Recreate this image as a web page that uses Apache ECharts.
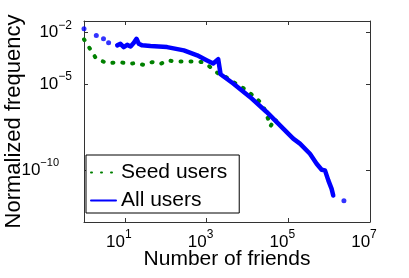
<!DOCTYPE html>
<html>
<head>
<meta charset="utf-8">
<script src="https://cdn.jsdelivr.net/npm/echarts@6/dist/echarts.min.js"></script>
<style>
html,body{margin:0;padding:0;background:#fff;}
#chart{width:409px;height:278px;}
</style>
</head>
<body>
<div id="chart"></div>
<script>
// Seed users (green dotted)
var seedX = [1, 2, 3.7, 7.5, 12.5, 18, 29, 46.5, 75, 108, 174, 277, 486, 780, 1205, 1925, 3090, 4490, 7200, 10460, 15250, 22200, 26900, 32300, 36600, 47100, 62400];
var seedY = [3.9e-3, 2.9e-4, 1.62e-4, 1.86e-4, 1.48e-4, 1.62e-4, 1.29e-4, 1.86e-4, 1.48e-4, 2.34e-4, 2.04e-4, 2.04e-4, 2.04e-4, 1.86e-4, 1.0e-4, 4.1e-5, 2.4e-5, 1.32e-5, 6.8e-6, 3.5e-6, 1.78e-6, 7.4e-7, 3.0e-7, 8.9e-8, 3.5e-8, 9.8e-8, 2.57e-8];
// All users (blue solid line)
var allX = [6.5, 7.8, 9.4, 11.4, 13.8, 16.6, 19.3, 22, 26.5, 42.5, 108, 278, 589, 1000, 1450, 1925, 2200, 4490, 11500, 29500, 75200, 132000, 193000, 339000, 494000, 656000, 791000, 955000, 1150000, 1260000];
var allY = [1.74e-3, 2.14e-3, 1.38e-3, 1.86e-3, 1.51e-3, 2.45e-3, 4.2e-3, 2.14e-3, 1.74e-3, 1.58e-3, 1.38e-3, 8.9e-4, 4.6e-4, 2.4e-4, 1.55e-4, 2.75e-4, 3.7e-5, 1.07e-5, 1.78e-6, 2.4e-7, 2.57e-8, 6.8e-9, 3.5e-9, 9.1e-10, 2.4e-10, 1.07e-10, 9.8e-11, 2.6e-11, 8.3e-12, 3.4e-12];
// All users isolated points
var allDotX = [1, 2, 3, 4, 2300000];
var allDotY = [1.58e-2, 6.6e-3, 4.2e-3, 2.45e-3, 1.7e-12];
// Ticks
var xTicks = [10, 1e3, 1e5, 1e7];
var yTicks = [1e-10, 1e-5, 1e-2];

function pairs(xs, ys){ return xs.map(function(x,i){ return [x, ys[i]]; }); }
function expOf(v){ return Math.round(Math.log10(v)); }
var FONT = "'Liberation Sans', Arial, Helvetica, sans-serif";
var AX = '#333';

var chart = echarts.init(document.getElementById('chart'), null, {renderer:'canvas'});
var baseRich = {
  b: {fontSize: 17, lineHeight: 26, fontFamily: FONT, color: '#000'},
  s: {fontSize: 12, lineHeight: 12, verticalAlign: 'top', fontFamily: FONT, color: '#000'},
  sx: {fontSize: 12, lineHeight: 12, verticalAlign: 'top', fontFamily: FONT, color: '#000', padding: [0, 12, 0, 0]},
  sp: {fontSize: 11, lineHeight: 12, verticalAlign: 'top', fontFamily: FONT, color: '#000', padding: [0, 13, 0, 0]}
};

chart.setOption({
  animation: false,
  backgroundColor: '#fff',
  grid: {left: 84, right: 39, top: 21, bottom: 56, containLabel: false, outerBoundsMode: 'none'},
  legend: {
    orient: 'vertical', left: 86, top: 155,
    data: ['Seed users', 'All users'],
    itemWidth: 25, itemHeight: 14, itemGap: 7, itemTextGap: 3,
    padding: [7, 12, 2, 4],
    borderColor: '#000', borderWidth: 1, backgroundColor: '#fff',
    itemStyle: {opacity: 0},
    textStyle: {fontSize: 21, lineHeight: 21, fontFamily: FONT, color: '#000'}
  },
  xAxis: [{
    type: 'log', min: 1, max: 1e7, position: 'bottom',
    name: 'Number of friends', nameLocation: 'middle', nameGap: 27, nameMoveOverlap: false,
    nameTextStyle: {fontSize: 21, fontFamily: FONT, color: '#000'},
    axisLine: {show: true, lineStyle: {color: AX, width: 1}},
    axisTick: {show: true, inside: true, length: 4, customValues: xTicks, lineStyle: {color: AX}},
    axisLabel: {show: true, margin: 7, customValues: xTicks, rich: baseRich,
      formatter: function(v){ return '{b|10}{sx|' + expOf(v) + '}'; }},
    splitLine: {show: false}, minorTick: {show: false}
  }, {
    type: 'log', min: 1, max: 1e7, position: 'top',
    axisLine: {show: true, lineStyle: {color: AX, width: 1}},
    axisTick: {show: true, inside: true, length: 4, customValues: xTicks, lineStyle: {color: AX}},
    axisLabel: {show: false}, splitLine: {show: false}
  }],
  yAxis: [{
    type: 'log', min: 1e-13, max: 0.045, position: 'left',
    name: 'Normalized frequency', nameLocation: 'middle', nameGap: 59, nameMoveOverlap: false,
    nameTextStyle: {fontSize: 22, fontFamily: FONT, color: '#000'},
    axisLine: {show: true, lineStyle: {color: AX, width: 1}},
    axisTick: {show: true, inside: true, length: 4, customValues: yTicks, lineStyle: {color: AX}},
    axisLabel: {show: true, margin: 12, customValues: yTicks, rich: baseRich,
      formatter: function(v){ var e = expOf(v); return '{b|10}{' + (e <= -10 ? 'sp' : 's') + '|\u2212' + (-e) + '}'; }},
    splitLine: {show: false}, minorTick: {show: false}
  }, {
    type: 'log', min: 1e-13, max: 0.045, position: 'right',
    axisLine: {show: true, lineStyle: {color: AX, width: 1}},
    axisTick: {show: true, inside: true, length: 4, customValues: yTicks, lineStyle: {color: AX}},
    axisLabel: {show: false}, splitLine: {show: false}
  }],
  series: [{
    name: 'Seed users', type: 'line', xAxisIndex: 0, yAxisIndex: 0,
    data: pairs(seedX, seedY), symbol: 'none', smooth: false,
    lineStyle: {color: '#008000', width: 4, type: [1, 9], cap: 'round'},
    itemStyle: {color: '#008000'}, z: 2
  }, {
    name: 'All users', type: 'line', xAxisIndex: 0, yAxisIndex: 0,
    data: pairs(allX, allY), symbol: 'none', smooth: false,
    lineStyle: {color: '#0000ff', width: 4.5, cap: 'round', join: 'round'},
    itemStyle: {color: '#0000ff'}, z: 3
  }, {
    name: 'All users dots', type: 'scatter', xAxisIndex: 0, yAxisIndex: 0,
    data: pairs(allDotX, allDotY), symbol: 'circle', symbolSize: 5,
    itemStyle: {color: '#0000ff'}, z: 3
  }]
});
</script>
</body>
</html>
